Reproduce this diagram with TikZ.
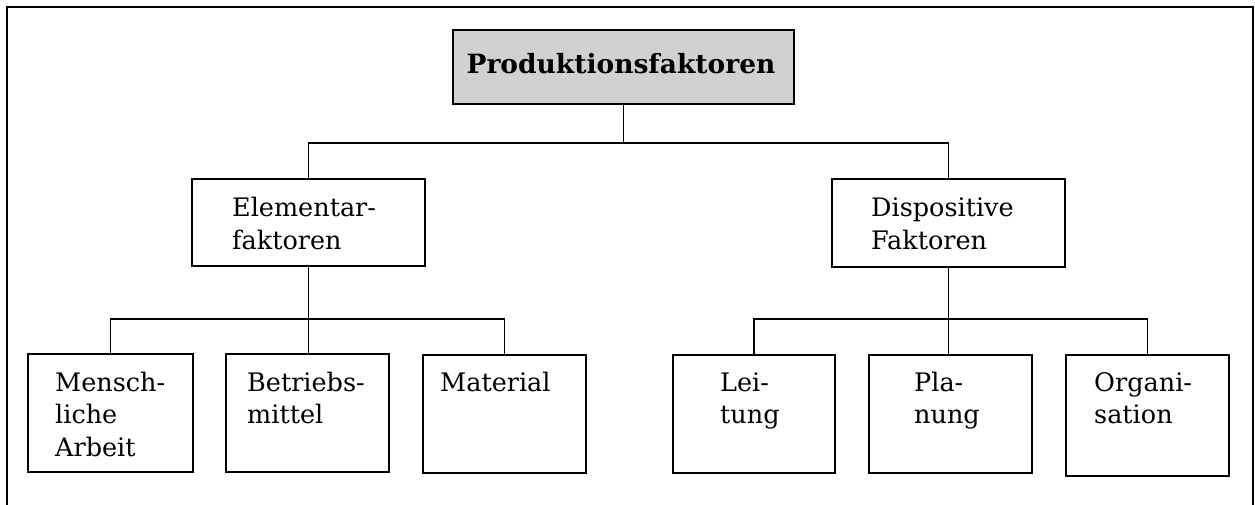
\documentclass[tikz,border=0pt]{standalone}
\usepackage{fontspec}
\setmainfont{DejaVu Serif}
\begin{document}
\begin{tikzpicture}[x=1pt,y=-1pt,
  box/.style={draw, line width=1.7pt, rectangle, inner sep=0pt, anchor=north west},
  headbox/.style={box, fill=black!18},
  lbl/.style={anchor=base west, inner sep=0pt, align=left,
    font=\fontsize{25.5}{32.5}\selectfont},
  headlbl/.style={anchor=base, inner sep=0pt,
    font=\fontsize{26.5}{30}\selectfont\bfseries},
  link/.style={line width=1.7pt},
  frame/.style={line width=2.6pt}]
\useasboundingbox (0,0) rectangle (1255,505);

% open frame around the chart
\draw[frame] (7,505) -- (7,7) -- (1253,7) -- (1253,505);

% boxes
\node[headbox, minimum width=341pt, minimum height=74pt] (top) at (452,29) {};
\node[box, minimum width=233pt, minimum height=87pt] (elem) at (191,178) {};
\node[box, minimum width=233pt, minimum height=88pt] (disp) at (831,178) {};
\node[box, minimum width=165pt, minimum height=118pt] (mensch) at (27,353) {};
\node[box, minimum width=163pt, minimum height=118pt] (betr) at (225,353) {};
\node[box, minimum width=163pt, minimum height=118pt] (mat) at (422,354) {};
\node[box, minimum width=162pt, minimum height=118pt] (leit) at (672,354) {};
\node[box, minimum width=163pt, minimum height=118pt] (plan) at (868,354) {};
\node[box, minimum width=163pt, minimum height=121pt] (org) at (1065,354) {};

% labels (anchored at the baseline of their last line)
\node[headlbl] (topt) at (621,74) {Produktionsfaktoren};
\node[lbl] (elemt) at (232,249.5) {Elementar-\\faktoren};
\node[lbl] (dispt) at (871,249.5) {Dispositive\\Faktoren};
\node[lbl] (menscht) at (55,456) {Mensch-\\liche\\Arbeit};
\node[lbl] (betrt) at (247,423.5) {Betriebs-\\mittel};
\node[lbl] (matt) at (440,391) {Material};
\node[lbl] (leitt) at (720,423.5) {Lei-\\tung};
\node[lbl] (plant) at (914,423.5) {Pla-\\nung};
\node[lbl] (orgt) at (1094,423.5) {Organi-\\sation};

% junction levels
\coordinate (j1) at (625,143);
\coordinate (j2) at (0,319);

% connectors
\draw[link] (top.south) -- (top.south |- j1);
\draw[link] (elem.north) |- (disp.north |- j1) -- (disp.north);
\draw[link] (elem.south) -- (elem.south |- betr.north);
\draw[link] (mensch.north) |- (mat.north |- j2) -- (mat.north);
\draw[link] (disp.south) -- (disp.south |- plan.north);
\draw[link] (leit.north) |- (org.north |- j2) -- (org.north);
\end{tikzpicture}
\end{document}
